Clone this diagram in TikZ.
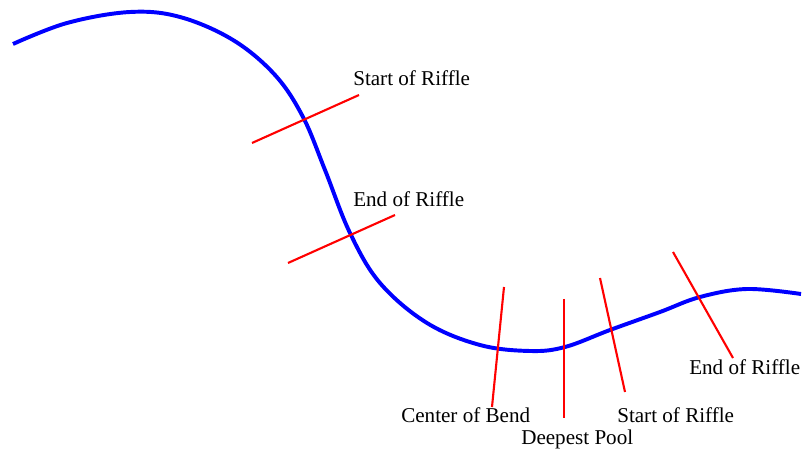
\documentclass[tikz,border=0pt]{standalone}
\usepackage{fontspec}
\setmainfont{Liberation Serif}
\usetikzlibrary{positioning}
\tikzset{
  stream/.style={draw=blue, line width=2.8pt, line join=round},
  xsec/.style={draw=red, line width=1.5pt},
  lbl/.style={font=\fontsize{15}{18}\selectfont, anchor=west, inner sep=0pt},
}
\begin{document}
\begin{tikzpicture}[x=0.025cm,y=-0.025cm]
\useasboundingbox (0,0) rectangle (802,452);
% channel centre line
\draw[stream] plot[smooth, tension=0.6] coordinates {(13,44) (67,23) (130,12) (180,17) (233,40) (275,75) (303,117) (325,170) (350,233) (380,283) (427,323) (480,345) (530,351) (565,347) (610,330) (660,312) (700,297) (747,289) (801,294)};
% cross sections
\coordinate (r1a) at (252,143); \coordinate (r1b) at (359,95);
\coordinate (r2a) at (288,263); \coordinate (r2b) at (395,215);
\coordinate (cba) at (504,287); \coordinate (cbb) at (492,407);
\coordinate (dpa) at (564,299); \coordinate (dpb) at (564,418);
\coordinate (r3a) at (600,278); \coordinate (r3b) at (625,392);
\coordinate (r4a) at (673,252); \coordinate (r4b) at (733,358);
\draw[xsec] (r1a) -- (r1b);
\draw[xsec] (r2a) -- (r2b);
\draw[xsec] (cba) -- (cbb);
\draw[xsec] (dpa) -- (dpb);
\draw[xsec] (r3a) -- (r3b);
\draw[xsec] (r4a) -- (r4b);
% labels
\node[lbl] (t1) at (353,78) {Start of Riffle};
\node[lbl] (t2) at (353,199) {End of Riffle};
\node[lbl] (t3) at (401,415) {Center of Bend};
\node[lbl] (t4) at (521,439) {Deepest Pool};
\node[lbl] (t5) at (617,415) {Start of Riffle};
\node[lbl] (t6) at (689,367) {End of Riffle};
\end{tikzpicture}
\end{document}
